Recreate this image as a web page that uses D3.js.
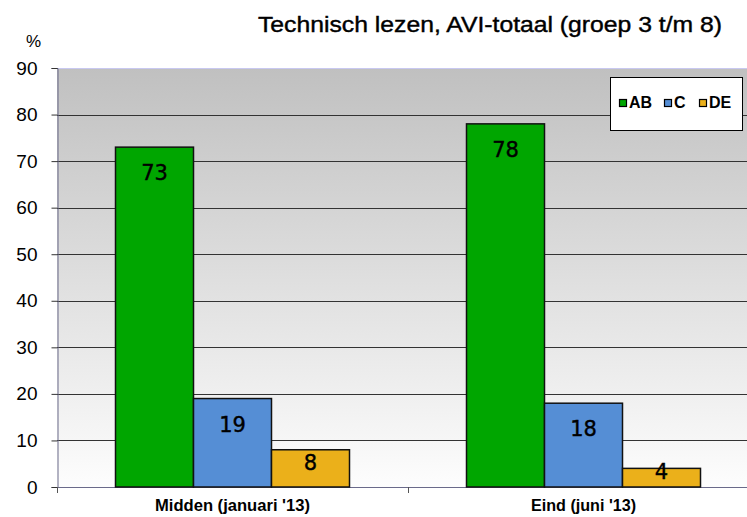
<!DOCTYPE html>
<html>
<head>
<meta charset="utf-8">
<style>
	body { margin: 0; background: #ffffff; }
	svg { display: block; font-family: "Liberation Sans", Arial, sans-serif; }
</style>
</head>
<body>
<div id="chart"></div>

<script src="https://d3js.org/d3.v7.min.js"></script>
<script>

	var categories = ["Midden (januari '13)", "Eind (juni '13)"];
	var series = ["AB", "C", "DE"];
	var valuesAB = [73, 78];
	var valuesC = [19, 18];
	var valuesDE = [8, 4];
	var yTicks = [0, 10, 20, 30, 40, 50, 60, 70, 80, 90];
	var colors = ["#00a600", "#558ed5", "#ebb01a"];

	var w = 747, h = 517;
	var plotL = 57, plotR = 759, plotT = 68, plotB = 487;

	// rows for the bars
	var rows = [];
	categories.forEach(function(c, i) {
		rows.push({cat: c, s: "AB", v: valuesAB[i]});
		rows.push({cat: c, s: "C", v: valuesC[i]});
		rows.push({cat: c, s: "DE", v: valuesDE[i]});
	});

	var svg = d3.select("#chart")
				.append("svg")
				.attr("width", w)
				.attr("height", h);

	// scales
	var x0 = d3.scaleBand()
			   .domain(categories)
			   .range([plotL, plotR])
			   .paddingInner(1/3)
			   .paddingOuter(1/6);
	var x1 = d3.scaleBand()
			   .domain(series)
			   .range([0, x0.bandwidth()]);
	var y = d3.scaleLinear()
			  .domain([0, 90])
			  .range([plotB, plotT]);
	var color = d3.scaleOrdinal().domain(series).range(colors);

	// background gradient of the plot area
	var grad = svg.append("defs").append("linearGradient")
				  .attr("id", "bg")
				  .attr("x1", 0).attr("y1", 0)
				  .attr("x2", 0).attr("y2", 1);
	grad.append("stop").attr("offset", "0%").attr("stop-color", "#c0c0c0");
	grad.append("stop").attr("offset", "100%").attr("stop-color", "#fdfdfd");

	svg.append("rect")
	   .attr("x", plotL)
	   .attr("y", y(90))
	   .attr("width", plotR - plotL)
	   .attr("height", y(0) - y(90))
	   .attr("fill", "url(#bg)");

	// top border line
	svg.append("line")
	   .attr("x1", plotL).attr("x2", plotR)
	   .attr("y1", y(90) + 0.5).attr("y2", y(90) + 0.5)
	   .attr("stroke", "#c8c8f0");

	// gridlines
	svg.append("g")
	   .selectAll("line")
	   .data(yTicks.filter(function(d) { return d > 0 && d < 90; }))
	   .enter()
	   .append("line")
	   .attr("x1", plotL)
	   .attr("x2", plotR)
	   .attr("y1", function(d) { return Math.round(y(d)) + 0.5; })
	   .attr("y2", function(d) { return Math.round(y(d)) + 0.5; })
	   .attr("stroke", "#333")
	   .attr("stroke-width", 1);

	// y axis
	var yAxis = d3.axisLeft(y).tickValues(yTicks).tickSize(6).tickPadding(14);
	var gy = svg.append("g")
				.attr("transform", "translate(" + (plotL + 0.5) + ",0)")
				.call(yAxis);
	gy.select(".domain").attr("stroke", "#6a6a8a");
	gy.selectAll(".tick line").attr("stroke", "#333");
	gy.selectAll("text")
	  .attr("font-family", "Liberation Sans, Arial, sans-serif")
	  .attr("font-size", 19)
	  .attr("fill", "#000");

	// x axis (ticks at the category boundaries)
	svg.append("line")
	   .attr("x1", plotL).attr("x2", plotR)
	   .attr("y1", plotB + 0.5).attr("y2", plotB + 0.5)
	   .attr("stroke", "#6a6a8a");
	svg.append("g")
	   .selectAll("line")
	   .data([0, 1, 2])
	   .enter()
	   .append("line")
	   .attr("x1", function(d) { return Math.round(plotL + d * x0.step()) + 0.5; })
	   .attr("x2", function(d) { return Math.round(plotL + d * x0.step()) + 0.5; })
	   .attr("y1", plotB)
	   .attr("y2", plotB + 6)
	   .attr("stroke", "#555");

	svg.append("g")
	   .selectAll("text")
	   .data(categories)
	   .enter()
	   .append("text")
	   .attr("x", function(d) { return x0(d) + x0.bandwidth() / 2; })
	   .attr("y", 511)
	   .attr("text-anchor", "middle")
	   .attr("font-size", 16)
	   .attr("font-weight", "bold")
	   .attr("textLength", function(d, i) { return i == 0 ? 155 : 105; })
	   .attr("lengthAdjust", "spacingAndGlyphs")
	   .text(function(d) { return d; });

	// bars
	svg.append("g")
	   .selectAll("rect")
	   .data(rows)
	   .enter()
	   .append("rect")
	   .attr("x", function(d) { return x0(d.cat) + x1(d.s); })
	   .attr("y", function(d) { return y(d.v); })
	   .attr("width", x1.bandwidth())
	   .attr("height", function(d) { return y(0) - y(d.v); })
	   .attr("fill", function(d) { return color(d.s); })
	   .attr("stroke", "#111")
	   .attr("stroke-width", 1.5);

	// value labels
	svg.append("g")
	   .selectAll("text")
	   .data(rows)
	   .enter()
	   .append("text")
	   .attr("x", function(d) { return x0(d.cat) + x1(d.s) + x1.bandwidth() / 2; })
	   .attr("y", function(d) {
	   	var bh = y(0) - y(d.v);
	   	return y(d.v) + Math.min(33, bh * 0.55);
	   })
	   .attr("text-anchor", "middle")
	   .attr("font-family", "DejaVu Sans, Verdana, sans-serif")
	   .attr("font-size", 21)
	   .attr("fill", "#000")
	   .attr("stroke", "#000")
	   .attr("stroke-width", 0.4)
	   .text(function(d) { return d.v; });

	// title and unit
	svg.append("text")
	   .attr("x", 258)
	   .attr("y", 32)
	   .attr("font-size", 22)
	   .attr("stroke", "#000")
	   .attr("stroke-width", 0.4)
	   .attr("textLength", 464)
	   .attr("lengthAdjust", "spacingAndGlyphs")
	   .text("Technisch lezen, AVI-totaal (groep 3 t/m 8)");

	svg.append("text")
	   .attr("x", 26)
	   .attr("y", 47)
	   .attr("font-size", 17)
	   .text("%");

	// legend
	var lg = svg.append("g");
	lg.append("rect")
	  .attr("x", 610.5)
	  .attr("y", 77.5)
	  .attr("width", 132)
	  .attr("height", 53)
	  .attr("fill", "#fff")
	  .attr("stroke", "#000");

	var legX = [619, 664, 699];
	var item = lg.selectAll(".item")
				 .data(series)
				 .enter()
				 .append("g")
				 .attr("class", "item")
				 .attr("transform", function(d, i) { return "translate(" + legX[i] + ",0)"; });
	item.append("rect")
		.attr("x", 0.5)
		.attr("y", 99.5)
		.attr("width", 7)
		.attr("height", 7)
		.attr("fill", function(d) { return color(d); })
		.attr("stroke", "#000")
		.attr("stroke-width", 1.2);
	item.append("text")
		.attr("x", 10)
		.attr("y", 108)
		.attr("font-size", 16)
		.attr("font-weight", "bold")
		.text(function(d) { return d; });

</script>
</body>
</html>
